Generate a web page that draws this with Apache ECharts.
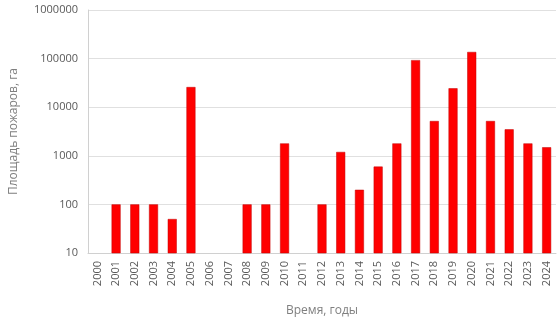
<!DOCTYPE html>
<html><head><meta charset="utf-8">
<script src="https://cdn.jsdelivr.net/npm/echarts@6/dist/echarts.min.js"></script>
<style>html,body{margin:0;padding:0;background:#fff}#c{width:559px;height:330px}</style>
</head><body><div id="c"></div>
<script>
const years = ['2000','2001','2002','2003','2004','2005','2006','2007','2008','2009','2010','2011','2012','2013','2014','2015','2016','2017','2018','2019','2020','2021','2022','2023','2024'];
const area = [null,100,100,100,50,26000,null,null,100,100,1800,null,100,1200,200,600,1800,93000,5200,24500,137000,5200,3500,1800,1500];
const yTicks = [10,100,1000,10000,100000,1000000];
const chart = echarts.init(document.getElementById('c'));
const font = 'Open Sans';
chart.setOption({
  animation:false,
  grid:{left:88,right:3,top:10,bottom:77},
  xAxis:{type:'category',data:years,name:'Время, годы',nameLocation:'middle',nameGap:52,
    nameTextStyle:{color:'#7f7f7f',fontSize:12,fontFamily:font},
    axisLine:{lineStyle:{color:'#d0d0d0'}},axisTick:{show:false},
    axisLabel:{rotate:90,interval:0,color:'#595959',fontSize:11,fontFamily:font,margin:8}},
  yAxis:{type:'log',logBase:10,min:yTicks[0],max:yTicks[yTicks.length-1],name:'Площадь пожаров, га',nameLocation:'middle',nameGap:68,
    nameTextStyle:{color:'#7f7f7f',fontSize:12,fontFamily:font},
    axisLine:{show:true,lineStyle:{color:'#d0d0d0'}},axisTick:{show:false},
    splitLine:{lineStyle:{color:'#e0e0e0'}},
    axisLabel:{color:'#595959',fontSize:11,fontFamily:font,margin:10,formatter:v=>String(Math.round(v))}},
  series:[{type:'bar',data:area,barWidth:9,itemStyle:{color:'#ff0000',borderColor:'#c00000',borderWidth:0.5}}]
});
</script></body></html>
